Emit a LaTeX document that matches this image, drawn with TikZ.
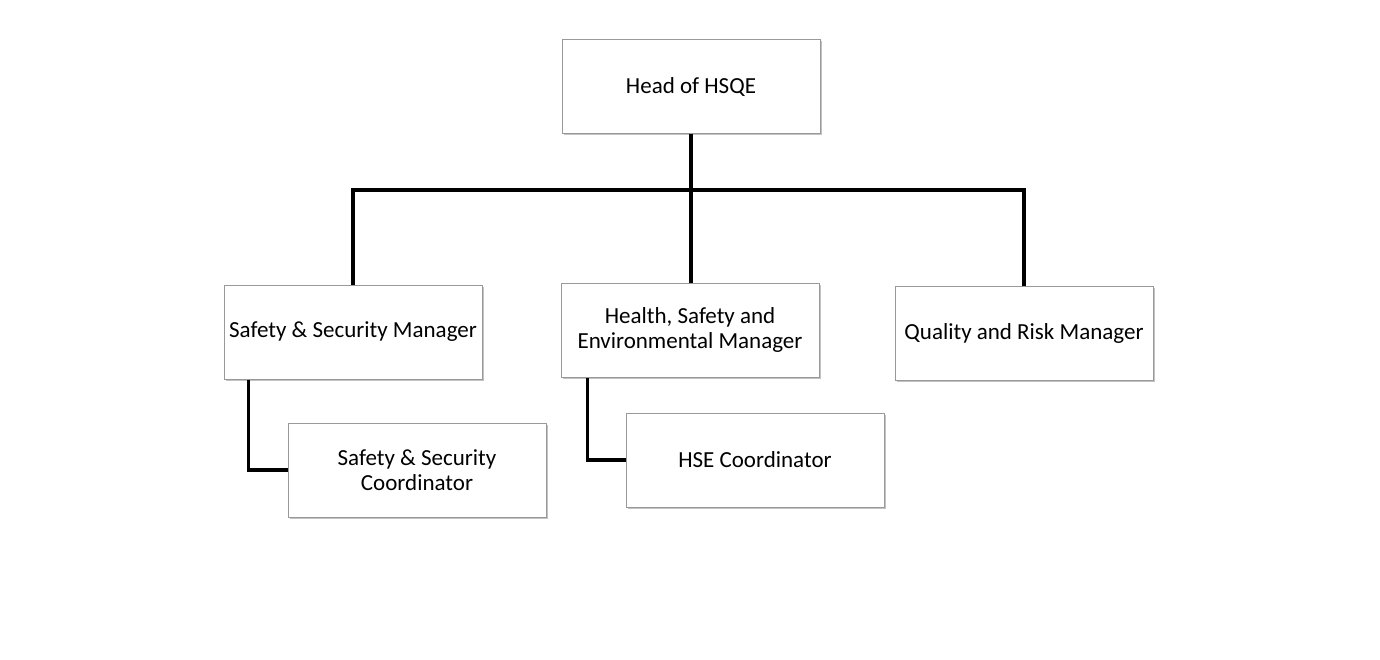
\documentclass[tikz,border=0pt]{standalone}
\usepackage{fontspec}
\setmainfont{Carlito}
\usetikzlibrary{shadows}
\begin{document}
\begin{tikzpicture}[x=1pt,y=-1pt,
  orgbox/.style={draw=black!40, line width=1pt, fill=white, minimum width=258pt, minimum height=94pt,
    inner sep=0pt, align=center, font=\fontsize{23}{25.5}\selectfont,
    drop shadow={shadow xshift=1.5pt, shadow yshift=-1.5pt, opacity=0.4, fill=black!60}},
  link/.style={line width=3.6pt, black}]
\useasboundingbox (0,0) rectangle (1380,660);
\node[orgbox] (head) at (691,87) {Head of HSQE};
\node[orgbox] (ssm) at (353,332) {Safety \& Security Manager};
\node[orgbox] (hsem) at (690,330) {Health, Safety and\\Environmental Manager};
\node[orgbox] (qrm) at (1024,333) {Quality and Risk Manager};
\node[orgbox] (ssc) at (417,470) {Safety \& Security\\Coordinator};
\node[orgbox] (hsec) at (755,460) {HSE Coordinator};
\coordinate (bus) at (691,190);
\draw[link] (head.south) -- (bus);
\draw[link] (ssm.north) |- (bus) -| (qrm.north);
\draw[link] (bus) -- (bus |- hsem.north);
\draw[link] (ssm.south west) ++(25,0) |- (ssc.west);
\draw[link] (hsem.south west) ++(27,0) |- (hsec.west);
\end{tikzpicture}
\end{document}
